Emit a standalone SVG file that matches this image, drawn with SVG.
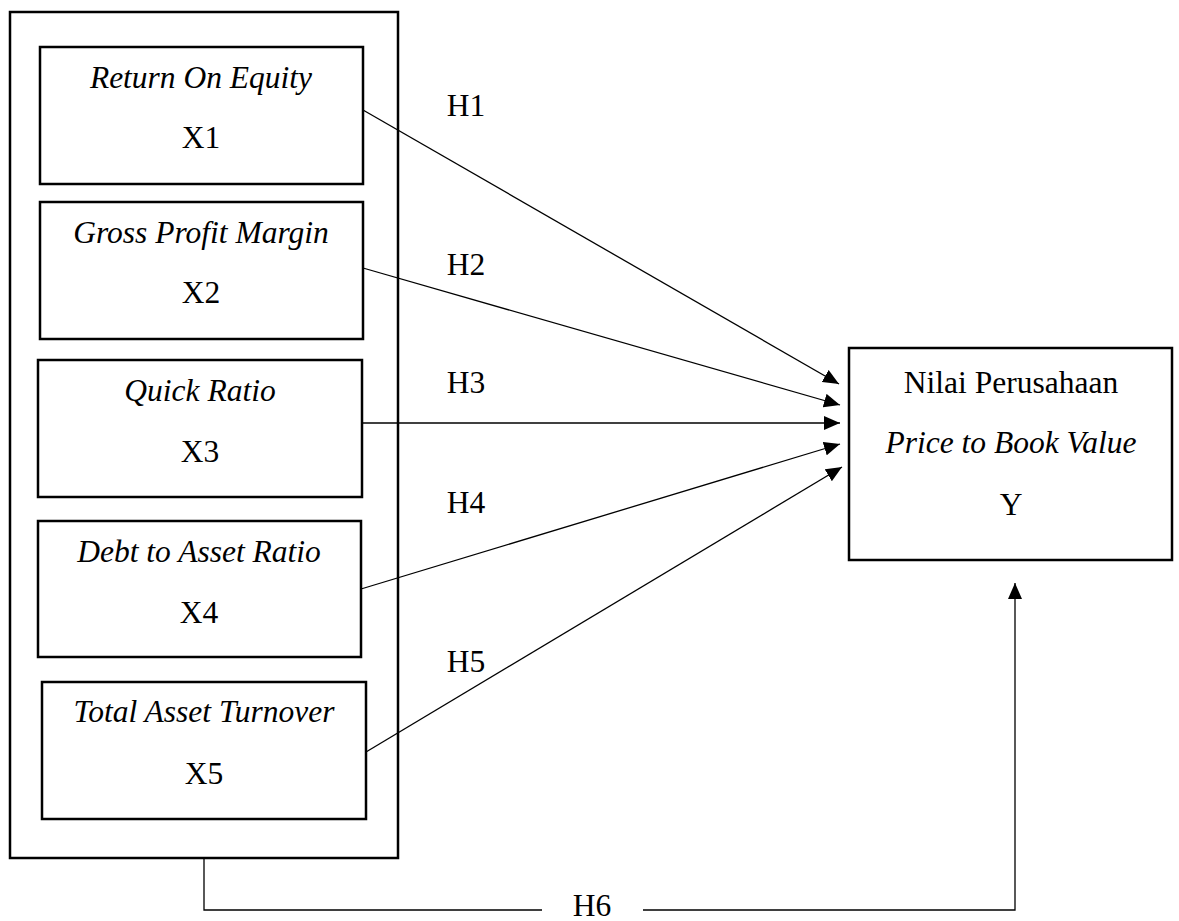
<svg xmlns="http://www.w3.org/2000/svg" width="1179" height="921" viewBox="0 0 1179 921">
<style>
.box{fill:#fff;stroke:#000;stroke-width:2.5}
.t{font-family:"Liberation Serif","Times New Roman",serif;font-size:31.5px;fill:#000;text-anchor:middle}
.i{font-style:italic}
.c{fill:none;stroke:#000;stroke-width:1.3}
</style>
<defs>
<marker id="ah" viewBox="0 0 16 14" refX="16" refY="7" markerWidth="16" markerHeight="14" markerUnits="userSpaceOnUse" orient="auto">
<path d="M0,0 L16,7 L0,14 Z" fill="#000"/>
</marker>
</defs>
<rect width="1179" height="921" fill="#fff"/>
<g id="group-x">
<rect class="box" x="10" y="12" width="388" height="846"/>
</g>
<g id="x1">
<rect class="box" x="40" y="47" width="323" height="137"/>
<text class="t i" x="201" y="88">Return On Equity</text>
<text class="t" x="201" y="148">X1</text>
</g>
<g id="x2">
<rect class="box" x="40" y="202" width="323" height="137"/>
<text class="t i" x="201" y="243">Gross Profit Margin</text>
<text class="t" x="201" y="303">X2</text>
</g>
<g id="x3">
<rect class="box" x="38" y="360" width="324" height="137"/>
<text class="t i" x="200" y="401">Quick Ratio</text>
<text class="t" x="200" y="462">X3</text>
</g>
<g id="x4">
<rect class="box" x="38" y="521" width="323" height="136"/>
<text class="t i" x="199" y="562">Debt to Asset Ratio</text>
<text class="t" x="199" y="623">X4</text>
</g>
<g id="x5">
<rect class="box" x="42" y="682" width="324" height="137"/>
<text class="t i" x="204" y="722">Total Asset Turnover</text>
<text class="t" x="204" y="784">X5</text>
</g>
<g id="y">
<rect class="box" x="849" y="348" width="323" height="212"/>
<text class="t" x="1011" y="393">Nilai Perusahaan</text>
<text class="t i" x="1011" y="453">Price to Book Value</text>
<text class="t" x="1011" y="515">Y</text>
</g>
<g id="connectors">
<line class="c" x1="363" y1="110" x2="839" y2="384" marker-end="url(#ah)"/>
<line class="c" x1="363" y1="268" x2="840" y2="405" marker-end="url(#ah)"/>
<line class="c" x1="362" y1="423" x2="840" y2="423" marker-end="url(#ah)"/>
<line class="c" x1="361" y1="589" x2="840" y2="444" marker-end="url(#ah)"/>
<line class="c" x1="366" y1="752" x2="842" y2="467" marker-end="url(#ah)"/>
<polyline class="c" points="204,858 204,910 542,910"/>
<polyline class="c" points="643,910 1015,910 1015,583" marker-end="url(#ah)"/>
<text class="t" x="466" y="116">H1</text>
<text class="t" x="466" y="275">H2</text>
<text class="t" x="466" y="393">H3</text>
<text class="t" x="466" y="513">H4</text>
<text class="t" x="466" y="672">H5</text>
<text class="t" x="592" y="916">H6</text>
</g>
</svg>
